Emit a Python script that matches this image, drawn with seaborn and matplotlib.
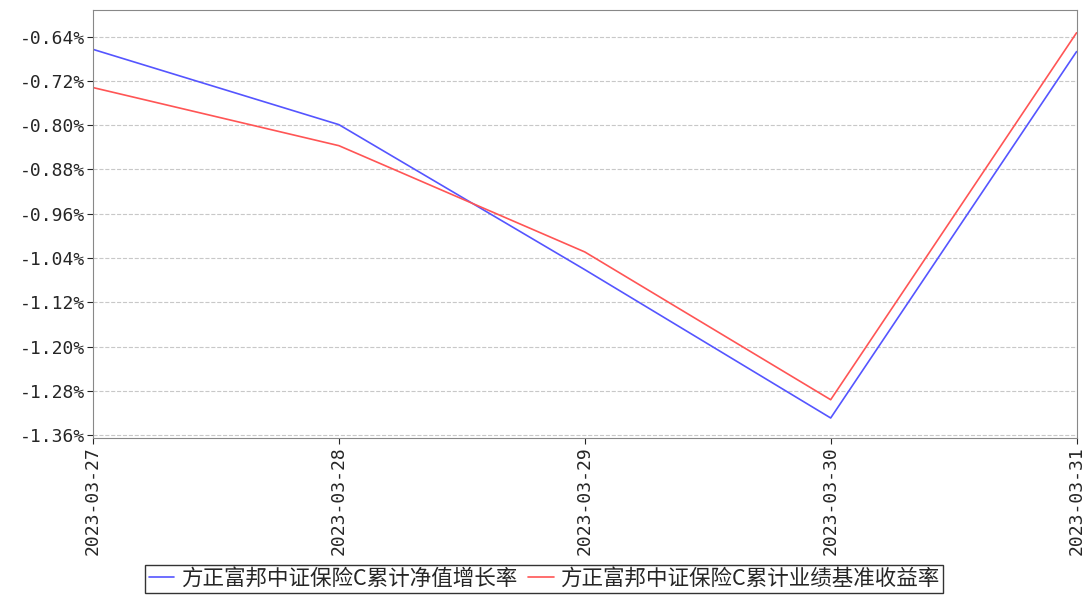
import matplotlib
matplotlib.use("Agg")
import matplotlib.pyplot as plt
import matplotlib.ticker as mticker
import seaborn as sns
import pandas as pd

dates = ["2023-03-27", "2023-03-28", "2023-03-29", "2023-03-30", "2023-03-31"]
nav_growth = [-0.663, -0.799, -1.061, -1.329, -0.667]
benchmark = [-0.732, -0.837, -1.029, -1.296, -0.633]
names = ["方正富邦中证保险C累计净值增长率", "方正富邦中证保险C累计业绩基准收益率"]
yticks = [-0.64, -0.72, -0.80, -0.88, -0.96, -1.04, -1.12, -1.20, -1.28, -1.36]

sns.set_style("white")
plt.rcParams['font.family'] = ['Noto Sans CJK SC', 'DejaVu Sans']
plt.rcParams['axes.unicode_minus'] = False

df = pd.DataFrame({"date": dates * 2,
                   "value": nav_growth + benchmark,
                   "series": [names[0]] * 5 + [names[1]] * 5})
df["x"] = df["date"].map({d: i for i, d in enumerate(dates)})

fig = plt.figure(figsize=(10.88, 5.95), dpi=100)
ax = fig.add_axes([0.0855, 0.264, 0.904, 0.72])
sns.lineplot(data=df, x="x", y="value", hue="series",
             palette=["#5555ff", "#ff5555"], linewidth=1.2, ax=ax, legend=False)

ax.set_xlim(0, 4)
ax.set_ylim(-1.365, -0.591)
ax.set_yticks(yticks)
ax.yaxis.set_major_formatter(mticker.FuncFormatter(lambda v, p: f"-{abs(v):.2f}%"))
ax.set_xticks(range(len(dates)))
ax.set_xticklabels(dates, rotation=90)
ax.tick_params(axis="both", length=4, direction="out", pad=2)
ax.tick_params(axis="x", bottom=True)
ax.tick_params(axis="y", left=True)
for lbl in ax.get_yticklabels() + ax.get_xticklabels():
    lbl.set_fontfamily("DejaVu Sans Mono")
    lbl.set_fontsize(13)
ax.yaxis.grid(True, linestyle="--", color="#c8c8c8", linewidth=0.8)
ax.set_xlabel("")
ax.set_ylabel("")
for s in ax.spines.values():
    s.set_color("#888888")

handles = [plt.Line2D([], [], color=c, linewidth=1.2) for c in ["#5555ff", "#ff5555"]]
fig.legend(handles, names, loc="lower center", bbox_to_anchor=(0.5, -0.015), ncol=2,
           frameon=True, fancybox=False, edgecolor="black", fontsize=15.5,
           handlelength=1.2, handletextpad=0.3, columnspacing=0.5, borderpad=0.15)

fig.savefig("out.png", dpi=100)
